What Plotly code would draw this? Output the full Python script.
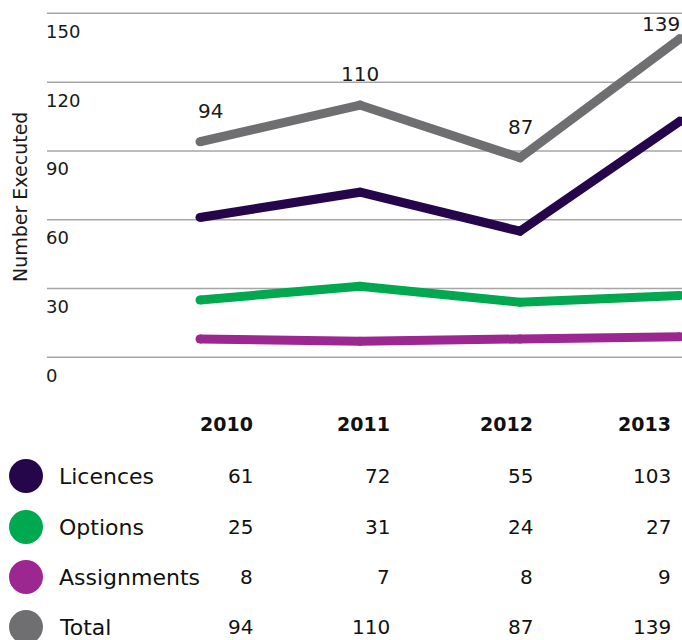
import plotly.graph_objects as go

years = [2010, 2011, 2012, 2013]
series_names = ["Licences", "Options", "Assignments", "Total"]
licences = [61, 72, 55, 103]
options = [25, 31, 24, 27]
assignments = [8, 7, 8, 9]
total = [94, 110, 87, 139]
series_values = [licences, options, assignments, total]
colors = ["#26064a", "#00a84f", "#9c2790", "#6f6f72"]
y_ticks = [0, 30, 60, 90, 120, 150]

W, H = 682, 640
FONT = "DejaVu Sans"
TXT = "#1a1a1a"

fig = go.Figure()

# lines (draw order: assignments, options, licences, total on top)
for idx in [2, 1, 0, 3]:
    fig.add_trace(go.Scatter(
        x=years, y=series_values[idx], mode="lines+markers",
        line=dict(color=colors[idx], width=9),
        marker=dict(color=colors[idx], size=9, line=dict(width=0)),
        name=series_names[idx], showlegend=False, hoverinfo="skip",
    ))

# gridlines and tick labels
for v in y_ticks:
    fig.add_shape(type="line", xref="paper", yref="y", x0=47 / W, x1=1,
                  y0=v, y1=v, line=dict(color="#a6a6a6", width=1.5), layer="below")
    fig.add_annotation(x=44 / W, xref="paper", y=v, yref="y", text=str(v),
                       showarrow=False, xanchor="left", yanchor="middle", yshift=-18,
                       font=dict(family=FONT, size=18, color=TXT))

# total data labels
for i, (yr, v) in enumerate(zip(years, total)):
    last = i == len(years) - 1
    fig.add_annotation(x=yr, y=v, text=str(v), showarrow=False,
                       xanchor="right" if last else "center",
                       xshift=2 if last else 10 * (i == 0),
                       yshift=15 if last else 31,
                       font=dict(family=FONT, size=20, color=TXT))

# axis title
fig.add_annotation(x=20 / W, xref="paper", y=1 - 197 / H, yref="paper",
                   text="Number Executed", textangle=-90, showarrow=False,
                   xanchor="center", yanchor="middle",
                   font=dict(family=FONT, size=19, color=TXT))

# table
col_right = [255, 392, 535, 673]
header_y = 424
row_y = [476, 527, 577, 627]
for yr, xr in zip(years, col_right):
    fig.add_annotation(x=xr / W, xref="paper", y=1 - header_y / H, yref="paper",
                       text="<b>%d</b>" % yr, showarrow=False, xanchor="right",
                       yanchor="middle",
                       font=dict(family=FONT, size=19, color="#111111"))
for name, vals, col, ry in zip(series_names, series_values, colors, row_y):
    r = 17
    fig.add_shape(type="circle", xref="paper", yref="paper",
                  x0=(26 - r) / W, x1=(26 + r) / W,
                  y0=1 - (ry + r) / H, y1=1 - (ry - r) / H,
                  fillcolor=col, line=dict(width=0))
    fig.add_annotation(x=57 / W, xref="paper", y=1 - ry / H, yref="paper",
                       text=name, showarrow=False, xanchor="left", yanchor="middle",
                       font=dict(family=FONT, size=22, color="#111111"))
    for v, xr in zip(vals, col_right):
        fig.add_annotation(x=xr / W, xref="paper", y=1 - ry / H, yref="paper",
                           text=str(v), showarrow=False, xanchor="right",
                           yanchor="middle",
                           font=dict(family=FONT, size=20, color="#111111"))

# axes: 2010 -> px 200, step 160 px per year; 0 -> px 357.3, 2.293 px per unit
px_per_year = 160.0
x0 = 2010 - 200 / px_per_year
x1 = 2010 + (W - 200) / px_per_year
dom_top_px, dom_bot_px = 0, 384
ppu = 2.293
y_top = 357.3 / ppu
y_bot = (357.3 - dom_bot_px) / ppu

fig.update_layout(
    width=W, height=H,
    margin=dict(l=0, r=0, t=0, b=0),
    paper_bgcolor="white", plot_bgcolor="white",
    xaxis=dict(range=[x0, x1], visible=False, domain=[0, 1]),
    yaxis=dict(range=[y_bot, y_top], visible=False,
               domain=[1 - dom_bot_px / H, 1 - dom_top_px / H]),
    showlegend=False,
)

fig.write_html("out.html", config={"displayModeBar": False},
               post_script="document.body.style.margin='0';"
                           "document.body.style.overflow='hidden';")
